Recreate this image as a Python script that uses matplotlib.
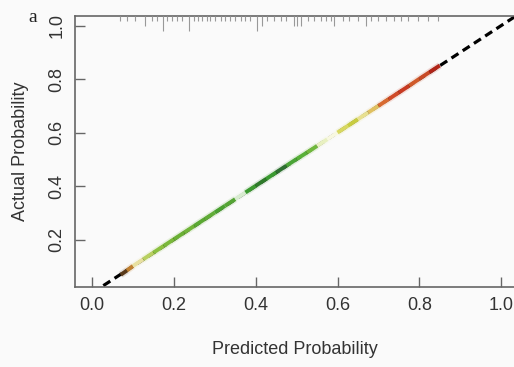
import matplotlib
matplotlib.use("Agg")
import matplotlib.pyplot as plt
from matplotlib.collections import LineCollection
from matplotlib.transforms import blended_transform_factory
import numpy as np

# calibration curve
pred = [0.07, 0.085, 0.10, 0.125, 0.15, 0.175, 0.20, 0.225, 0.25, 0.275, 0.30,
        0.325, 0.35, 0.375, 0.40, 0.425, 0.45, 0.475, 0.50, 0.525, 0.55, 0.575,
        0.60, 0.625, 0.65, 0.675, 0.70, 0.725, 0.75, 0.775, 0.80, 0.825, 0.85]
actual = [0.068, 0.084, 0.101, 0.126, 0.151, 0.176, 0.201, 0.226, 0.251, 0.276, 0.301,
          0.326, 0.351, 0.376, 0.401, 0.426, 0.451, 0.476, 0.501, 0.525, 0.550, 0.575,
          0.600, 0.625, 0.650, 0.675, 0.700, 0.725, 0.750, 0.775, 0.801, 0.826, 0.851]

# rug along the top: predicted probabilities and their counts
rug_x = [0.069, 0.085, 0.105, 0.130, 0.146, 0.159, 0.173, 0.183, 0.195, 0.208,
         0.220, 0.236, 0.248, 0.258, 0.269, 0.281, 0.289, 0.301, 0.314, 0.326,
         0.338, 0.350, 0.363, 0.375, 0.387, 0.404, 0.416, 0.428, 0.444, 0.461,
         0.473, 0.493, 0.502, 0.510, 0.527, 0.542, 0.559, 0.571, 0.583, 0.591,
         0.613, 0.627, 0.650, 0.669, 0.681, 0.699, 0.718, 0.738, 0.755, 0.772,
         0.797, 0.821, 0.846]
rug_n = [1, 1, 1, 2, 1, 1, 3, 1, 1, 1,
         1, 3, 1, 1, 1, 1, 1, 1, 1, 1,
         1, 1, 1, 1, 1, 3, 2, 1, 1, 1,
         1, 2, 2, 2, 1, 1, 1, 1, 1, 2,
         1, 1, 1, 2, 1, 1, 1, 1, 1, 1,
         1, 1, 1]

xticks = [0.0, 0.2, 0.4, 0.6, 0.8, 1.0]
yticks = [0.2, 0.4, 0.6, 0.8, 1.0]

# colour of the curve at each point (it runs green -> yellow -> red)
seg_colors = ['#5a3a1a', '#c08030', '#e8e0a0', '#b8d060', '#8cc040', '#7ab83a',
              '#6ab034', '#70b438', '#5aa832', '#60ac36', '#4aa030', '#54a434',
              '#d8ecd0', '#3c9a30', '#2e7a2a', '#3a9a30', '#2e7030', '#4aa436',
              '#58b038', '#70b83c', '#e8f0c0', '#f8f8e0', '#d8d860', '#c8cc40',
              '#e8e090', '#e0c060', '#d86a30', '#d04a28', '#c83a22', '#d05a2a',
              '#c84a26', '#b02418', '#901010']

bg = '#fafafa'
plt.rcParams['font.family'] = ['Liberation Sans', 'DejaVu Sans']

fig = plt.figure(figsize=(5.14, 3.67), dpi=100, facecolor=bg)
ax = fig.add_axes([0.146, 0.218, 0.856, 0.738], facecolor=bg)
ax.set_xlim(-0.0417, 1.034)
ax.set_ylim(0.0224, 1.0355)

# ideal line
ax.plot([0, 1.1], [0, 1.1], color='black', lw=2.3, linestyle=(0, (2.6, 1.6)),
        zorder=2)

# coloured calibration curve
pts = np.column_stack([pred, actual])
segs = np.stack([pts[:-1], pts[1:]], axis=1)
halo = LineCollection(segs, colors=seg_colors[:-1], linewidths=5, alpha=0.15,
                      capstyle='butt', zorder=3)
ax.add_collection(halo)
lc = LineCollection(segs, colors=seg_colors[:-1], linewidths=2.8,
                    capstyle='butt', zorder=4)
ax.add_collection(lc)

# rug
trans = blended_transform_factory(ax.transData, ax.transAxes)
ax.vlines(rug_x, 1 - np.array(rug_n) * 0.018, 1.0, colors='#999999',
          lw=0.8, transform=trans, zorder=5)

for side in ['left', 'bottom', 'top']:
    ax.spines[side].set_color('#666666')
    ax.spines[side].set_linewidth(1.2)
ax.spines['right'].set_visible(False)

ax.set_xticks(xticks)
ax.set_xticklabels([f'{v:.1f}' for v in xticks])
ax.set_yticks(yticks)
ax.set_yticklabels([f'{v:.1f}' for v in yticks], rotation=90, va='center')
ax.tick_params(direction='in', length=7, width=1.0, color='#666666',
               labelsize=13, labelcolor='#333333')
ax.tick_params(axis='x', pad=7)
ax.tick_params(axis='y', pad=7)

ax.set_xlabel('Predicted Probability', fontsize=13, color='#333333', labelpad=20)
ax.set_ylabel('Actual Probability', fontsize=13, color='#333333', labelpad=14)

fig.text(0.064, 0.953, 'a', family=['Liberation Serif'], fontsize=14,
         color='#222222', ha='center', va='center')

fig.savefig('out.png', dpi=100, facecolor=bg)
